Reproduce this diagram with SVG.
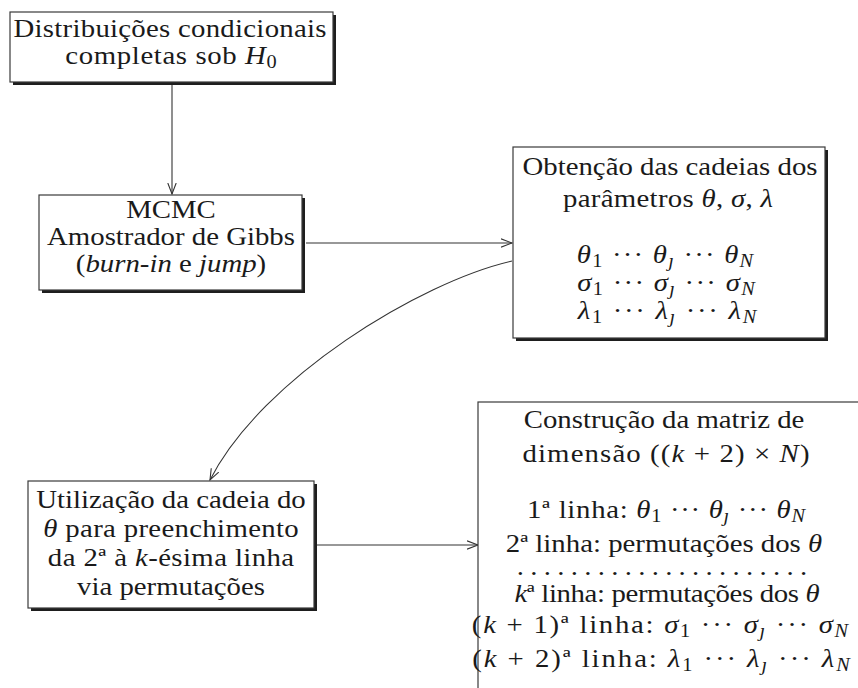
<svg xmlns="http://www.w3.org/2000/svg" width="858" height="688" viewBox="0 0 858 688">
<defs>
<style>
.bg{fill:#fff}
.shadow{fill:#1e1e1e}
.box{fill:#fff;stroke:#3a3a3a;stroke-width:1.2}
.t{font-family:"Liberation Serif","DejaVu Serif",serif;font-size:25.5px;text-anchor:middle;fill:#1a1a1a}
.i{font-style:italic}
.conn{fill:none;stroke:#333;stroke-width:1.1}
</style>
<marker id="arr" markerUnits="userSpaceOnUse" markerWidth="14" markerHeight="12" refX="11" refY="5" orient="auto" viewBox="0 0 14 10">
<path d="M0,0.8 L11,5 L0,9.2" fill="none" stroke="#333" stroke-width="1.1"/>
</marker>
</defs>
<rect class="bg" x="0" y="0" width="858" height="688"/>

<g id="connectors">
<path class="conn" d="M172,85 L172,194" marker-end="url(#arr)"/>
<path class="conn" d="M306,243 L512,243" marker-end="url(#arr)"/>
<path class="conn" d="M512,261 C420,282 262,378 210,480" marker-end="url(#arr)"/>
<path class="conn" d="M317,545 L478,545" marker-end="url(#arr)"/>
</g>

<g id="node-distribuicoes">
<rect class="shadow" x="13" y="15" width="323" height="70"/>
<rect class="box" x="10" y="12" width="323" height="70"/>
<text class="t" transform="translate(170,37) scale(1.13,1)" textLength="277" lengthAdjust="spacing">Distribuições condicionais</text>
<text class="t" transform="translate(171,64) scale(1.13,1)" textLength="187" lengthAdjust="spacing">completas sob <tspan class="i">H</tspan><tspan font-size="18" dy="4">0</tspan></text>
</g>

<g id="node-mcmc">
<rect class="shadow" x="42" y="198" width="263" height="95"/>
<rect class="box" x="39" y="195" width="263" height="95"/>
<text class="t" transform="translate(171,218) scale(1.13,1)">MCMC</text>
<text class="t" transform="translate(171,245) scale(1.13,1)">Amostrador de Gibbs</text>
<text class="t" transform="translate(171,272) scale(1.13,1)">(<tspan class="i">burn-in</tspan> e <tspan class="i">jump</tspan>)</text>
</g>

<g id="node-cadeias">
<rect class="shadow" x="516" y="150" width="312" height="191"/>
<rect class="box" x="513" y="147" width="312" height="191"/>
<text class="t" transform="translate(670,175) scale(1.13,1)">Obtenção das cadeias dos</text>
<text class="t" transform="translate(668,207) scale(1.13,1)" textLength="186" lengthAdjust="spacing">parâmetros <tspan class="i">θ</tspan>, <tspan class="i">σ</tspan>, <tspan class="i">λ</tspan></text>
<text class="t" transform="translate(665,263) scale(1.13,1)" textLength="156" lengthAdjust="spacing"><tspan class="i">θ</tspan><tspan font-size="18" dy="4">1</tspan><tspan dy="-4"> ··· </tspan><tspan class="i">θ</tspan><tspan class="i" font-size="18" dy="4">ȷ</tspan><tspan dy="-4"> ··· </tspan><tspan class="i">θ</tspan><tspan class="i" font-size="18" dy="4">N</tspan></text>
<text class="t" transform="translate(666,291) scale(1.13,1)" textLength="157" lengthAdjust="spacing"><tspan class="i">σ</tspan><tspan font-size="18" dy="4">1</tspan><tspan dy="-4"> ··· </tspan><tspan class="i">σ</tspan><tspan class="i" font-size="18" dy="4">ȷ</tspan><tspan dy="-4"> ··· </tspan><tspan class="i">σ</tspan><tspan class="i" font-size="18" dy="4">N</tspan></text>
<text class="t" transform="translate(667,319) scale(1.13,1)" textLength="158" lengthAdjust="spacing"><tspan class="i">λ</tspan><tspan font-size="18" dy="4">1</tspan><tspan dy="-4"> ··· </tspan><tspan class="i">λ</tspan><tspan class="i" font-size="18" dy="4">ȷ</tspan><tspan dy="-4"> ··· </tspan><tspan class="i">λ</tspan><tspan class="i" font-size="18" dy="4">N</tspan></text>
</g>

<g id="node-utilizacao">
<rect class="shadow" x="31" y="484" width="286" height="127"/>
<rect class="box" x="28" y="481" width="286" height="127"/>
<text class="t" transform="translate(171,508) scale(1.13,1)">Utilização da cadeia do</text>
<text class="t" transform="translate(171,537) scale(1.13,1)" textLength="226" lengthAdjust="spacing"><tspan class="i">θ</tspan> para preenchimento</text>
<text class="t" transform="translate(171,566) scale(1.13,1)" textLength="218" lengthAdjust="spacing">da 2ª à <tspan class="i">k</tspan>-ésima linha</text>
<text class="t" transform="translate(171,595) scale(1.13,1)">via permutações</text>
</g>

<g id="node-matriz">
<rect class="box" x="478" y="402" width="400" height="300"/>
<text class="t" transform="translate(664,428) scale(1.13,1)">Construção da matriz de</text>
<text class="t" transform="translate(666,462) scale(1.13,1)" textLength="254" lengthAdjust="spacing">dimensão ((<tspan class="i">k</tspan> + 2) × <tspan class="i">N</tspan>)</text>
<text class="t" transform="translate(666,518) scale(1.13,1)" textLength="246" lengthAdjust="spacing">1ª linha: <tspan class="i">θ</tspan><tspan font-size="18" dy="4">1</tspan><tspan dy="-4"> ··· </tspan><tspan class="i">θ</tspan><tspan class="i" font-size="18" dy="4">ȷ</tspan><tspan dy="-4"> ··· </tspan><tspan class="i">θ</tspan><tspan class="i" font-size="18" dy="4">N</tspan></text>
<text class="t" transform="translate(664,552) scale(1.13,1)">2ª linha: permutações dos <tspan class="i">θ</tspan></text>
<text class="t" transform="translate(662,575) scale(1.13,1)" font-size="14" textLength="257" lengthAdjust="spacing">......................</text>
<text class="t" transform="translate(667,602) scale(1.13,1)" textLength="270" lengthAdjust="spacing"><tspan class="i">k</tspan>ª linha: permutações dos <tspan class="i">θ</tspan></text>
<text class="t" transform="translate(660,633) scale(1.13,1)" textLength="333" lengthAdjust="spacing">(<tspan class="i">k</tspan> + 1)ª linha: <tspan class="i">σ</tspan><tspan font-size="18" dy="4">1</tspan><tspan dy="-4"> ··· </tspan><tspan class="i">σ</tspan><tspan class="i" font-size="18" dy="4">ȷ</tspan><tspan dy="-4"> ··· </tspan><tspan class="i">σ</tspan><tspan class="i" font-size="18" dy="4">N</tspan></text>
<text class="t" transform="translate(661,667) scale(1.13,1)" textLength="334" lengthAdjust="spacing">(<tspan class="i">k</tspan> + 2)ª linha: <tspan class="i">λ</tspan><tspan font-size="18" dy="4">1</tspan><tspan dy="-4"> ··· </tspan><tspan class="i">λ</tspan><tspan class="i" font-size="18" dy="4">ȷ</tspan><tspan dy="-4"> ··· </tspan><tspan class="i">λ</tspan><tspan class="i" font-size="18" dy="4">N</tspan></text>
</g>
</svg>
